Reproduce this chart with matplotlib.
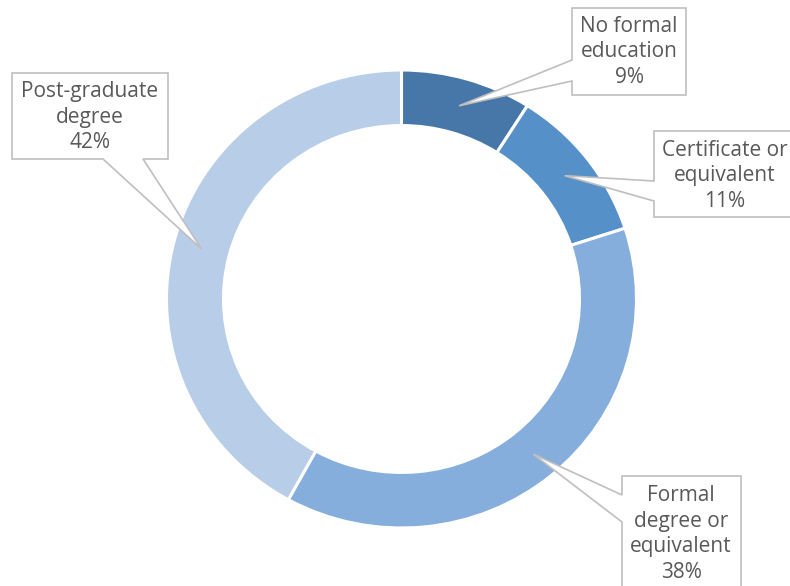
import matplotlib.pyplot as plt
from matplotlib.patches import Polygon
import numpy as np

# education levels and share of respondents (%)
categories = ['No formal\neducation', 'Certificate or\nequivalent',
              'Formal\ndegree or\nequivalent', 'Post-graduate\ndegree']
shares = [9, 11, 38, 42]
colors = ['#4677A8', '#5590C8', '#85AEDC', '#B8CDE7']

W, H = 790, 586
KY = 235 / 229          # ring is a bit wider than tall in the original
CX, CY = 401.5, (H - 299) * KY
R_OUT, R_IN = 235, 178

# callout boxes in pixels from top-left: (left, top, right, bottom, side, base1, base2)
boxes = [
    (572, 8, 686, 95, 'left', 60, 81),
    (654, 131, 800, 217, 'left', 181, 201),
    (622, 476, 741, 600, 'left', 495, 522),
    (12, 73, 168, 159, 'bottom', 103, 143),
]
# text centres (pixels from top-left)
text_pos = [(629, 52), (725, 176), (681, 534), (90, 117)]


def to_data(x, y):
    return x, (H - y) * KY


def callout_poly(box, tip):
    x0, t, x1, b, side, p1, p2 = box
    if side == 'left':
        pts = [(x0, t), (x1, t), (x1, b), (x0, b), (x0, p2), None, (x0, p1)]
    else:
        pts = [(x0, t), (x1, t), (x1, b), (p2, b), None, (p1, b), (x0, b)]
    return [tip if p is None else to_data(*p) for p in pts]


fig = plt.figure(figsize=(W / 100, H / 100), dpi=100)
ax = fig.add_axes([0, 0, 1, 1])

wedges, _ = ax.pie(shares, colors=colors, startangle=90, counterclock=False,
                   center=(CX, CY), radius=R_OUT,
                   wedgeprops=dict(width=R_OUT - R_IN, edgecolor='white', linewidth=2.2))

r_mid = (R_OUT + R_IN) / 2
for w, label, share, box, (tx, ty) in zip(wedges, categories, shares, boxes, text_pos):
    ang = np.deg2rad((w.theta1 + w.theta2) / 2)
    tip = (CX + r_mid * np.cos(ang), CY + r_mid * np.sin(ang))
    poly = Polygon(callout_poly(box, tip), closed=True, facecolor='white',
                   edgecolor='#BFBFBF', linewidth=1.2, zorder=3)
    ax.add_patch(poly)
    ax.text(*to_data(tx, ty), f'{label}\n{share}%', ha='center', va='center',
            fontsize=15, color='#595959', family='Open Sans',
            linespacing=1.3, zorder=4)

ax.set_xlim(0, W)
ax.set_ylim(0, H * KY)
ax.set_aspect('auto')
ax.axis('off')

fig.savefig('out.png', dpi=100)
